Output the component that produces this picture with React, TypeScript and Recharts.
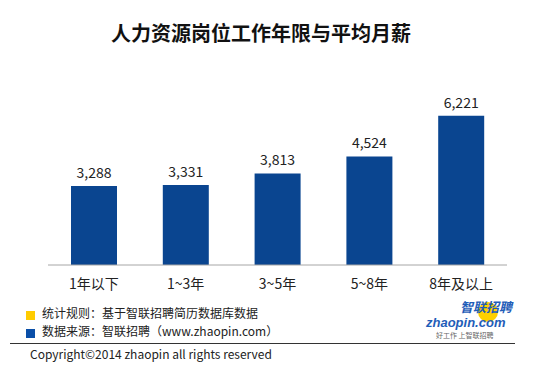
import { BarChart, Bar, XAxis, YAxis, LabelList } from 'recharts';

const categories = ['1年以下', '1~3年', '3~5年', '5~8年', '8年及以上'];
const salaries = [3288, 3331, 3813, 4524, 6221];

const title = '人力资源岗位工作年限与平均月薪';
const noteRule = '统计规则：基于智联招聘简历数据库数据';
const noteSource = '数据来源：智联招聘（www.zhaopin.com）';
const copyright = 'Copyright©2014 zhaopin all rights reserved';

const FONT = '"Noto Sans CJK SC", "Noto Sans", sans-serif';

export default function App() {
  const data = categories.map((c, i) => ({ name: c, value: salaries[i] }));

  return (
    <div style={{ position: 'absolute', left: 0, top: 0, width: 550, height: 372, background: '#fff', fontFamily: FONT, overflow: 'hidden' }}>
      <div style={{ position: 'absolute', top: 20, left: 0, width: 522, textAlign: 'center', fontSize: 20, lineHeight: '26px', fontWeight: 700, color: '#111' }}>
        {title}
      </div>
      <BarChart
        width={550}
        height={372}
        data={data}
        margin={{ top: 97, right: 43, bottom: 77, left: 48 }}
        style={{ position: 'absolute', left: 0, top: 0 }}
      >
        <XAxis
          dataKey="name"
          height={30}
          tickLine={false}
          tickMargin={8}
          axisLine={{ stroke: '#A6A6A6' }}
          tick={{ fill: '#222', fontSize: 14, fontFamily: FONT }}
          interval={0}
        />
        <YAxis hide domain={[0, 7000]} />
        <Bar dataKey="value" fill="#0A4590" barSize={46} isAnimationActive={false}>
          <LabelList
            dataKey="value"
            position="top"
            offset={8}
            formatter={(v: any) => Number(v).toLocaleString('en-US')}
            style={{ fill: '#222', fontSize: 14, fontFamily: FONT }}
          />
        </Bar>
      </BarChart>

      <div style={{ position: 'absolute', left: 26, top: 311, width: 9, height: 9, background: '#FFCC00' }} />
      <div style={{ position: 'absolute', left: 42, top: 305, fontSize: 12, lineHeight: '16px', color: '#222' }}>{noteRule}</div>
      <div style={{ position: 'absolute', left: 26, top: 329, width: 9, height: 9, background: '#0A4FA8' }} />
      <div style={{ position: 'absolute', left: 42, top: 323, fontSize: 12, lineHeight: '16px', color: '#222' }}>{noteSource}</div>
      <div style={{ position: 'absolute', left: 10, top: 343, width: 505, height: 1, background: '#333' }} />
      <div style={{ position: 'absolute', left: 30, top: 346, fontSize: 12, lineHeight: '16px', color: '#222' }}>{copyright}</div>

      <div style={{ position: 'absolute', left: 478, top: 302, width: 20, height: 20, borderRadius: 10, background: '#FFD000' }} />
      <div style={{ position: 'absolute', left: 460, top: 299, fontSize: 13, lineHeight: '15px', fontWeight: 700, fontStyle: 'italic', color: '#1F5DB8' }}>智联招聘</div>
      <div style={{ position: 'absolute', left: 426, top: 316, fontSize: 13, lineHeight: '14px', fontWeight: 700, fontStyle: 'italic', color: '#1F5DB8', fontFamily: 'Arial, "Liberation Sans", sans-serif' }}>zhaopin.com</div>
      <div style={{ position: 'absolute', left: 436, top: 331, fontSize: 7, lineHeight: '9px', color: '#666' }}>好工作 上智联招聘</div>
    </div>
  );
}
